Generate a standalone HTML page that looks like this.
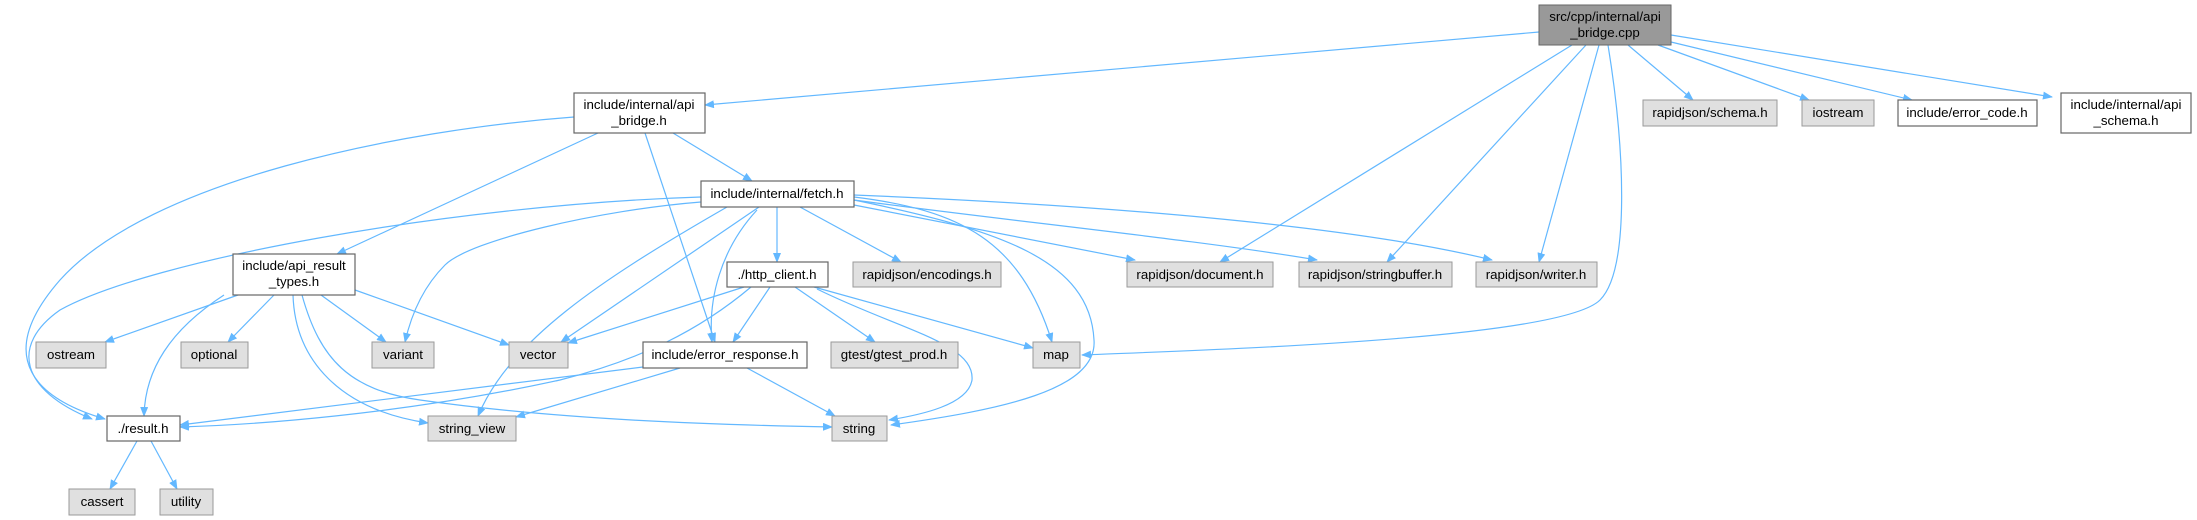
<!DOCTYPE html>
<html><head><meta charset="utf-8"><style>
html,body{margin:0;padding:0;background:#fff;}
svg{display:block;}
text{font-family:"Liberation Sans",Arial,sans-serif;font-size:13.3px;fill:#000;}
.e{fill:none;stroke:#63b8ff;stroke-width:1.2;}
.g{fill:#e0e0e0;stroke:#999;stroke-width:1;}
.w{fill:#fff;stroke:#666;stroke-width:1.2;}
.r{fill:#999;stroke:#666;stroke-width:1;}
</style></head><body>
<svg width="2197" height="520" viewBox="0 0 2197 520" xmlns="http://www.w3.org/2000/svg">
<defs><marker id="a" markerWidth="10" markerHeight="8" refX="9" refY="4" orient="auto" markerUnits="userSpaceOnUse"><path d="M0,0 L10,4 L0,8 z" fill="#63b8ff"/></marker></defs>
<g marker-end="url(#a)">
<!-- from cpp -->
<path class="e" d="M1539,32 L705,105"/>
<path class="e" d="M1572,45 L1220,262"/>
<path class="e" d="M1586,45 L1387,262"/>
<path class="e" d="M1599,45 L1539,262"/>
<path class="e" d="M1608,45 C1625,150 1630,270 1600,300 C1560,340 1200,350 1082,355"/>
<path class="e" d="M1628,45 L1693,100"/>
<path class="e" d="M1658,45 L1809,100"/>
<path class="e" d="M1671,42 L1912,100"/>
<path class="e" d="M1671,35 L2052,97"/>
<!-- from api_bridge.h -->
<path class="e" d="M574,117 C400,130 150,180 60,280 C-10,360 40,400 105,419"/>
<path class="e" d="M598,133 L337,254"/>
<path class="e" d="M645,133 L715,342"/>
<path class="e" d="M673,133 L752,181"/>
<!-- from fetch.h -->
<path class="e" d="M701,197 C450,205 150,260 60,310 C10,345 20,390 92,419"/>
<path class="e" d="M701,202 C600,210 470,240 445,265 C420,290 410,320 405,342"/>
<path class="e" d="M727,207 C600,280 510,340 478,416"/>
<path class="e" d="M759,207 L561,342"/>
<path class="e" d="M757,210 C720,250 708,300 712,342"/>
<path class="e" d="M777,207 L777,262"/>
<path class="e" d="M800,207 L901,262"/>
<path class="e" d="M854,197 C960,210 1020,240 1052,342"/>
<path class="e" d="M854,200 C1000,230 1090,260 1094,340 C1098,390 1000,410 891,425"/>
<path class="e" d="M854,205 L1135,260"/>
<path class="e" d="M854,200 C1000,220 1200,240 1317,260"/>
<path class="e" d="M854,195 C1100,205 1350,225 1492,260"/>
<!-- from api_result_types -->
<path class="e" d="M238,295 L105,342"/>
<path class="e" d="M274,295 L228,342"/>
<path class="e" d="M321,295 L386,342"/>
<path class="e" d="M355,290 L509,345"/>
<path class="e" d="M224,295 C170,330 145,370 144,416"/>
<path class="e" d="M293,295 C295,360 340,410 428,423"/>
<path class="e" d="M302,295 C320,360 350,390 420,400 C560,420 720,425 832,427"/>
<!-- from http_client -->
<path class="e" d="M744,287 L568,343"/>
<path class="e" d="M751,287 C700,330 640,360 560,380 C400,415 250,425 180,427"/>
<path class="e" d="M770,287 L733,342"/>
<path class="e" d="M795,287 L875,342"/>
<path class="e" d="M814,287 L1033,348"/>
<path class="e" d="M817,289 C900,330 975,343 972,380 C968,405 920,415 889,420"/>
<!-- from error_response -->
<path class="e" d="M643,367 L180,425"/>
<path class="e" d="M680,368 L516,417"/>
<path class="e" d="M747,368 L835,416"/>
<!-- result.h -->
<path class="e" d="M137,441 L110,489"/>
<path class="e" d="M151,441 L177,489"/>
</g>
<!-- nodes -->
<rect class="r" x="1539" y="5" width="132" height="40"/>
<text x="1605" y="21" text-anchor="middle">src/cpp/internal/api</text>
<text x="1605" y="37" text-anchor="middle">_bridge.cpp</text>

<rect class="w" x="574" y="93" width="131" height="40"/>
<text x="639" y="109" text-anchor="middle">include/internal/api</text>
<text x="639" y="125" text-anchor="middle">_bridge.h</text>

<rect class="w" x="701" y="181" width="153" height="26"/>
<text x="777" y="198" text-anchor="middle">include/internal/fetch.h</text>

<rect class="w" x="233" y="254" width="122" height="41"/>
<text x="294" y="270" text-anchor="middle">include/api_result</text>
<text x="294" y="286" text-anchor="middle">_types.h</text>

<rect class="w" x="727" y="262" width="101" height="25"/>
<text x="777" y="279" text-anchor="middle">./http_client.h</text>

<rect class="g" x="853" y="262" width="148" height="25"/>
<text x="927" y="279" text-anchor="middle">rapidjson/encodings.h</text>

<rect class="g" x="1127" y="262" width="146" height="25"/>
<text x="1200" y="279" text-anchor="middle">rapidjson/document.h</text>

<rect class="g" x="1299" y="262" width="153" height="25"/>
<text x="1375" y="279" text-anchor="middle">rapidjson/stringbuffer.h</text>

<rect class="g" x="1476" y="262" width="121" height="25"/>
<text x="1536" y="279" text-anchor="middle">rapidjson/writer.h</text>

<rect class="g" x="1643" y="100" width="134" height="26"/>
<text x="1710" y="117" text-anchor="middle">rapidjson/schema.h</text>

<rect class="g" x="1802" y="100" width="72" height="26"/>
<text x="1838" y="117" text-anchor="middle">iostream</text>

<rect class="w" x="1898" y="100" width="139" height="26"/>
<text x="1967" y="117" text-anchor="middle">include/error_code.h</text>

<rect class="w" x="2061" y="93" width="130" height="40"/>
<text x="2126" y="109" text-anchor="middle">include/internal/api</text>
<text x="2126" y="125" text-anchor="middle">_schema.h</text>

<rect class="g" x="36" y="342" width="70" height="26"/>
<text x="71" y="359" text-anchor="middle">ostream</text>
<rect class="g" x="181" y="342" width="67" height="26"/>
<text x="214" y="359" text-anchor="middle">optional</text>
<rect class="g" x="372" y="342" width="62" height="26"/>
<text x="403" y="359" text-anchor="middle">variant</text>
<rect class="g" x="509" y="342" width="59" height="26"/>
<text x="538" y="359" text-anchor="middle">vector</text>
<rect class="w" x="643" y="342" width="164" height="26"/>
<text x="725" y="359" text-anchor="middle">include/error_response.h</text>
<rect class="g" x="831" y="342" width="127" height="26"/>
<text x="894" y="359" text-anchor="middle">gtest/gtest_prod.h</text>
<rect class="g" x="1033" y="342" width="47" height="26"/>
<text x="1056" y="359" text-anchor="middle">map</text>

<rect class="w" x="107" y="416" width="73" height="25"/>
<text x="143" y="433" text-anchor="middle">./result.h</text>
<rect class="g" x="428" y="416" width="88" height="25"/>
<text x="472" y="433" text-anchor="middle">string_view</text>
<rect class="g" x="832" y="416" width="55" height="25"/>
<text x="859" y="433" text-anchor="middle">string</text>

<rect class="g" x="69" y="489" width="66" height="26"/>
<text x="102" y="506" text-anchor="middle">cassert</text>
<rect class="g" x="160" y="489" width="53" height="26"/>
<text x="186" y="506" text-anchor="middle">utility</text>
</svg>
</body></html>
